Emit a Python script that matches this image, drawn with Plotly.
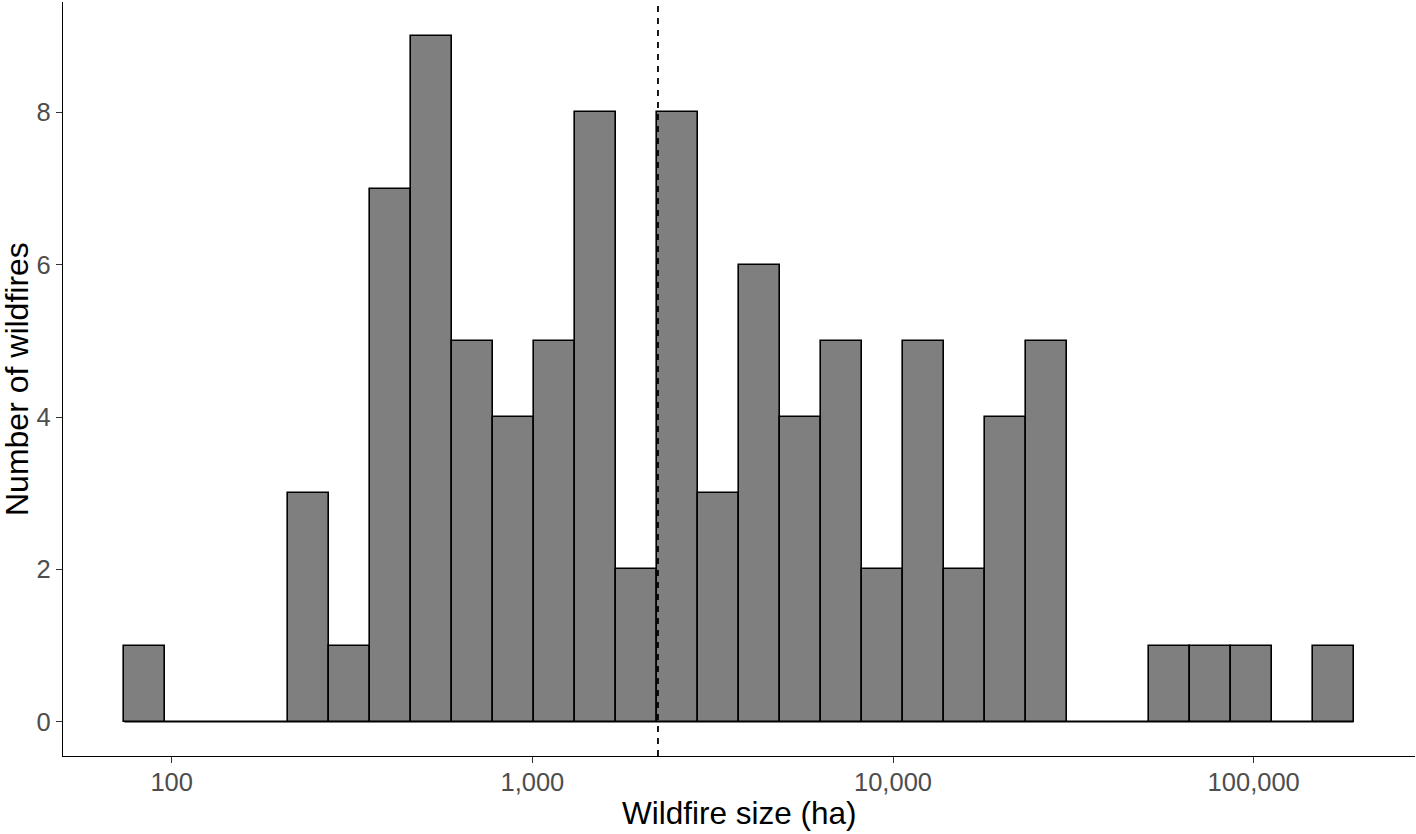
import numpy as np
import plotly.graph_objects as go

# ---- data ----
counts = [1, 0, 0, 0, 3, 1, 7, 9, 5, 4, 5, 8, 2, 8, 3, 6, 4, 5, 2, 5, 2, 4, 5, 0, 0, 1, 1, 1, 0, 1]
smallest_fire_ha = 84.3
largest_fire_ha = 166000
median_fire_ha = 2230
x_tick_values = [100, 1000, 10000, 100000]
x_tick_labels = ["100", "1,000", "10,000", "100,000"]
y_tick_values = [0, 2, 4, 6, 8]
x_title = "Wildfire size (ha)"
y_title = "Number of wildfires"

# ---- histogram bins (ggplot2 style: 30 bins, first/last centred on min/max) ----
lo, hi = np.log10(smallest_fire_ha), np.log10(largest_fire_ha)
n = len(counts)
bw = (hi - lo) / (n - 1)
centers = lo + bw * np.arange(n)
edge0, edgeN = lo - bw / 2, hi + bw / 2
span = edgeN - edge0
ymax = max(counts)

font_family = "Arial, Liberation Sans, sans-serif"

fig = go.Figure()
fig.add_trace(go.Scatter(x=[edge0, edgeN], y=[0, 0], mode="lines",
                         line=dict(color="black", width=1.6), hoverinfo="skip", showlegend=False))
fig.add_trace(go.Bar(x=centers, y=counts, width=bw,
                     marker=dict(color="#7F7F7F", line=dict(color="black", width=1.6)),
                     showlegend=False))

fig.add_vline(x=np.log10(median_fire_ha), line=dict(color="black", width=1.8, dash="6px,6px"))

axis_common = dict(showline=True, linecolor="black", linewidth=1.3, ticks="outside",
                   ticklen=6, tickwidth=1.3, tickcolor="#333333", showgrid=False,
                   zeroline=False, tickfont=dict(family=font_family, size=25.5, color="#4D4D4D"))

fig.update_layout(
    width=1416, height=834,
    margin=dict(l=63, r=1, t=2, b=78),
    plot_bgcolor="white", paper_bgcolor="white",
    bargap=0,
    xaxis=dict(range=[edge0 - 0.05 * span, edgeN + 0.05 * span], ticklabelstandoff=-3,
               tickvals=list(np.log10(x_tick_values)), ticktext=x_tick_labels, **axis_common),
    yaxis=dict(range=[-0.05 * ymax, ymax * 1.05], tickvals=y_tick_values, **axis_common),
    annotations=[
        dict(text=x_title, xref="paper", yref="paper", x=0.5, y=0, yanchor="middle",
             yshift=-57, showarrow=False, font=dict(family=font_family, size=31.5, color="black")),
        dict(text=y_title, xref="paper", yref="paper", x=0, y=0.5, xanchor="center",
             xshift=-46, textangle=-90, showarrow=False,
             font=dict(family=font_family, size=32, color="black")),
    ],
)

fig.write_html("out.html", config={"displayModeBar": False},
               post_script="document.body.style.margin='0';")
